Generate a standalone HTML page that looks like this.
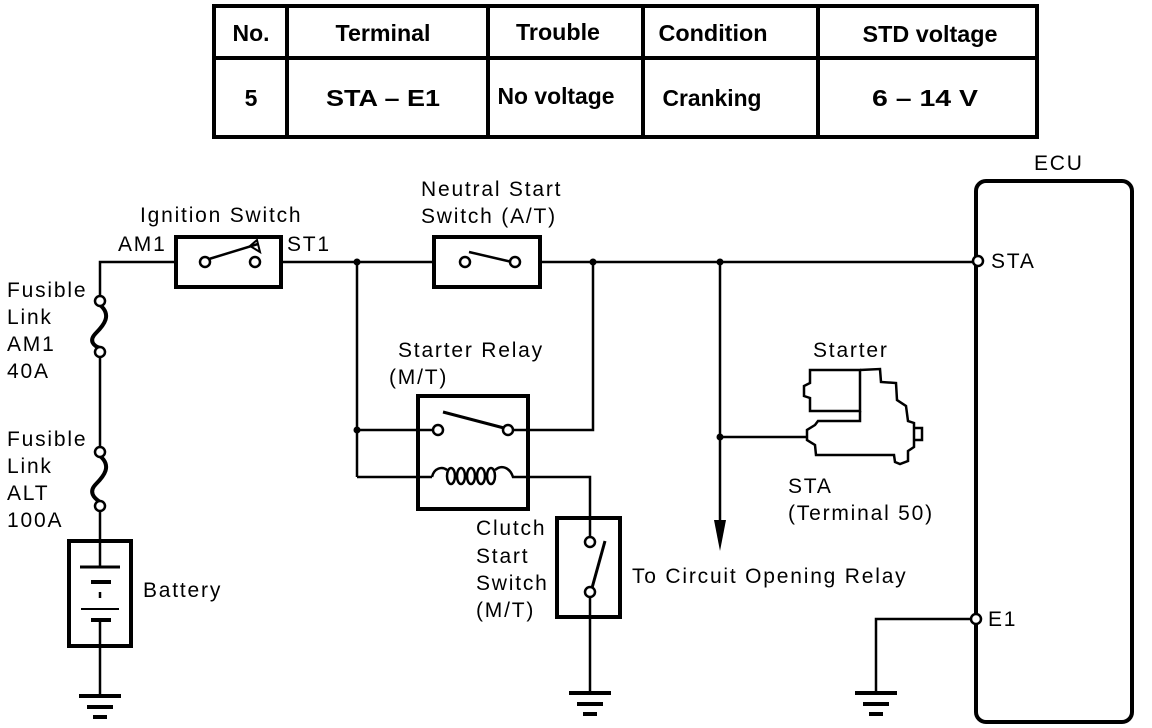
<!DOCTYPE html>
<html><head><meta charset="utf-8"><style>
body{margin:0;background:#fff}
svg{display:block}
text{font-family:"Liberation Sans",sans-serif;font-size:21px;letter-spacing:1.8px;fill:#000}
.t{font-weight:bold;font-size:23px;letter-spacing:0;text-anchor:middle}
</style></head><body>
<svg width="1152" height="728" viewBox="0 0 1152 728" xmlns="http://www.w3.org/2000/svg">
<g fill="none" stroke="#000" stroke-width="4">
<rect x="214" y="6" width="823" height="131"/>
<line x1="214" y1="58" x2="1037" y2="58"/>
<line x1="287" y1="6" x2="287" y2="137"/>
<line x1="488" y1="6" x2="488" y2="137"/>
<line x1="643" y1="6" x2="643" y2="137"/>
<line x1="818" y1="6" x2="818" y2="137"/>
</g>
<text class="t" x="251" y="41" textLength="37" lengthAdjust="spacingAndGlyphs">No.</text>
<text class="t" x="383" y="41" textLength="95" lengthAdjust="spacingAndGlyphs">Terminal</text>
<text class="t" x="558" y="40" textLength="84" lengthAdjust="spacingAndGlyphs">Trouble</text>
<text class="t" x="713" y="41" textLength="109" lengthAdjust="spacingAndGlyphs">Condition</text>
<text class="t" x="930" y="42" textLength="135" lengthAdjust="spacingAndGlyphs">STD voltage</text>
<text class="t" x="251" y="106">5</text>
<text class="t" x="383" y="106" textLength="114" lengthAdjust="spacingAndGlyphs">STA – E1</text>
<text class="t" x="556" y="104" textLength="117" lengthAdjust="spacingAndGlyphs">No voltage</text>
<text class="t" x="712" y="106" textLength="99" lengthAdjust="spacingAndGlyphs">Cranking</text>
<text class="t" x="925" y="106" textLength="106" lengthAdjust="spacingAndGlyphs">6 – 14 V</text>

<g fill="none" stroke="#000" stroke-width="2.5">
<polyline points="100,301 100,262 175,262"/>
<line x1="282" y1="262" x2="433" y2="262"/>
<line x1="540" y1="262" x2="975" y2="262"/>
<line x1="100" y1="352" x2="100" y2="452"/>
<line x1="100" y1="506" x2="100" y2="541"/>
<line x1="100" y1="646" x2="100" y2="696"/>
<path d="M100,305 C112,315 104,325 96,333 C88,341 94,346 100,348" stroke-width="4"/>
<path d="M100,456 C112,466 104,476 96,484 C88,492 94,498 100,502" stroke-width="4"/>
<rect x="69" y="541" width="62" height="105" stroke-width="4"/>
<line x1="100" y1="541" x2="100" y2="566"/>
<line x1="80" y1="567" x2="120" y2="567" stroke-width="3"/>
<line x1="91" y1="582" x2="111" y2="582" stroke-width="4"/>
<line x1="100" y1="592" x2="100" y2="598"/>
<line x1="81" y1="609" x2="119" y2="609" stroke-width="2"/>
<line x1="91" y1="620" x2="111" y2="620" stroke-width="4"/>
<line x1="100" y1="620" x2="100" y2="646"/>
<rect x="176" y="237" width="105" height="50" stroke-width="4"/>
<line x1="209" y1="259" x2="258" y2="244"/>
<path d="M250,246 L257,240 L260,252 Z" stroke-width="2"/>
<line x1="357" y1="262" x2="357" y2="477"/>
<line x1="357" y1="430" x2="432" y2="430"/>
<line x1="357" y1="477" x2="432" y2="477"/>
<rect x="434" y="237" width="106" height="50" stroke-width="4"/>
<line x1="469" y1="252" x2="512" y2="262"/>
<polyline points="593,262 593,430 513,430"/>
<rect x="418" y="396" width="110" height="113" stroke-width="4"/>
<line x1="443" y1="412" x2="504" y2="428" stroke-width="3"/>
<path d="M432,477 C434,468 442,466 447,470"/>
<ellipse cx="451" cy="476" rx="4" ry="8"/>
<ellipse cx="461" cy="476" rx="4" ry="8"/>
<ellipse cx="471" cy="476" rx="4" ry="8"/>
<ellipse cx="481" cy="476" rx="4" ry="8"/>
<ellipse cx="491" cy="476" rx="4" ry="8"/>
<path d="M495,470 C502,464 510,468 513,477 L590,477 L590,537"/>
<rect x="557" y="518" width="63" height="99" stroke-width="4"/>
<line x1="592" y1="588" x2="605" y2="541" stroke-width="3"/>
<line x1="590" y1="596" x2="590" y2="693"/>
<line x1="720" y1="262" x2="720" y2="525"/>
<line x1="720" y1="437" x2="808" y2="437"/>
<path d="M810,370 L860,370 L860,411 L810,411 L810,398 L804,396 L804,386 L810,383 Z"/>
<path d="M860,370 L880,369 L881,382 L896,383 L897,400 L906,406 L908,421 L914,423 L914,447 L908,451 L908,461 L900,464 L895,462 L894,455 L816,455 L815,445 L807,440 L807,430 L815,425 L818,421 L860,421 L860,411"/>
<path d="M914,428 L922,428 L922,440 L914,440"/>
<rect x="976" y="181" width="156" height="541" rx="10" stroke-width="4"/>
<polyline points="972,619 876,619 876,693"/>
<g stroke-width="4">
<line x1="79" y1="696" x2="121" y2="696"/><line x1="87" y1="707" x2="113" y2="707"/><line x1="93" y1="717" x2="107" y2="717"/>
<line x1="569" y1="693" x2="611" y2="693"/><line x1="577" y1="704" x2="603" y2="704"/><line x1="583" y1="714" x2="597" y2="714"/>
<line x1="855" y1="693" x2="897" y2="693"/><line x1="863" y1="704" x2="889" y2="704"/><line x1="869" y1="714" x2="883" y2="714"/>
</g>
</g>
<path d="M714,520 L726,520 L720,551 Z" fill="#000"/>
<g fill="#000">
<circle cx="357" cy="262" r="3.5"/><circle cx="357" cy="430" r="3.5"/>
<circle cx="593" cy="262" r="3.5"/><circle cx="720" cy="262" r="3.5"/><circle cx="720" cy="437" r="3.5"/>
</g>
<g fill="#fff" stroke="#000" stroke-width="2.5">
<circle cx="100" cy="301" r="5"/><circle cx="100" cy="352" r="5"/>
<circle cx="100" cy="452" r="5"/><circle cx="100" cy="506" r="5"/>
<circle cx="205" cy="262" r="5"/><circle cx="255" cy="262" r="5"/>
<circle cx="465" cy="262" r="5"/><circle cx="515" cy="262" r="5"/>
<circle cx="438" cy="430" r="5"/><circle cx="508" cy="430" r="5"/>
<circle cx="590" cy="542" r="5"/><circle cx="590" cy="592" r="5"/>
<circle cx="978" cy="261" r="5"/><circle cx="976" cy="619" r="5"/>
</g>
<text x="140" y="222">Ignition Switch</text>
<text x="118" y="251">AM1</text>
<text x="287" y="251">ST1</text>
<text x="421" y="196">Neutral Start</text>
<text x="421" y="223">Switch (A/T)</text>
<text x="398" y="357">Starter Relay</text>
<text x="389" y="384">(M/T)</text>
<text x="476" y="535">Clutch</text>
<text x="476" y="563">Start</text>
<text x="476" y="590">Switch</text>
<text x="476" y="617">(M/T)</text>
<text x="632" y="583">To Circuit Opening Relay</text>
<text x="813" y="357">Starter</text>
<text x="788" y="493">STA</text>
<text x="788" y="520">(Terminal 50)</text>
<text x="1034" y="170">ECU</text>
<text x="991" y="268">STA</text>
<text x="988" y="626">E1</text>
<text x="143" y="597">Battery</text>
<text x="7" y="297">Fusible</text>
<text x="7" y="324">Link</text>
<text x="7" y="351">AM1</text>
<text x="7" y="378">40A</text>
<text x="7" y="446">Fusible</text>
<text x="7" y="473">Link</text>
<text x="7" y="500">ALT</text>
<text x="7" y="527">100A</text>
</svg>
</body></html>
